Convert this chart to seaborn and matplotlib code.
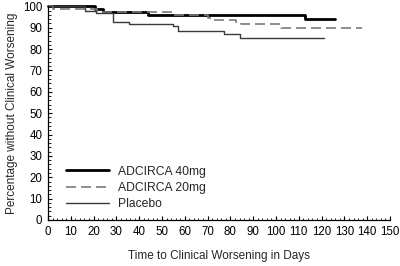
import matplotlib
matplotlib.use("Agg")
import matplotlib.pyplot as plt
import seaborn as sns
import pandas as pd
from matplotlib.ticker import MultipleLocator

sns.set_style("white")
plt.rcParams['font.family'] = ['Liberation Sans', 'DejaVu Sans']

# Kaplan-Meier step data (days, % without clinical worsening)
days_40 = [0, 20.7, 24.3, 43.7, 112.5, 125.7]
pct_40 = [100, 98.7, 97.4, 96.1, 94.3, 94.3]

days_20 = [0, 2.2, 21.6, 55, 70, 72.3, 82.5, 84.7, 102.3, 137.6]
pct_20 = [100, 99.0, 97.4, 96.0, 94.5, 93.7, 92.6, 91.8, 89.7, 89.7]

days_pl = [0, 16.3, 21, 28.5, 35.5, 55, 57, 77, 84, 121]
pct_pl = [100, 98.0, 96.8, 92.8, 91.8, 90.7, 88.3, 87.0, 85.0, 85.0]

labels = ["ADCIRCA 40mg", "ADCIRCA 20mg", "Placebo"]
x_ticks = list(range(0, 151, 10))
y_ticks = list(range(0, 101, 10))

fig = plt.figure(figsize=(4.0, 2.66), dpi=100)
ax = fig.add_axes([0.12, 0.173, 0.855, 0.803])

series = [
    (days_40, pct_40, labels[0], dict(color="black", lw=2.0, ls="-")),
    (days_20, pct_20, labels[1], dict(color="#7a7a7a", lw=1.2, ls=(0, (6, 3)))),
    (days_pl, pct_pl, labels[2], dict(color="#3a3a3a", lw=1.0, ls="-")),
]
for d, p, lab, st in series:
    df = pd.DataFrame({"day": d, "pct": p})
    sns.lineplot(data=df, x="day", y="pct", ax=ax, drawstyle="steps-post",
                 estimator=None, label=lab, color=st["color"], lw=st["lw"],
                 linestyle=st["ls"], clip_on=False)

ax.set_xlim(0, 150)
ax.set_ylim(0, 100)
ax.set_xticks(x_ticks)
ax.set_yticks(y_ticks)
ax.xaxis.set_minor_locator(MultipleLocator(2))
ax.yaxis.set_minor_locator(MultipleLocator(2))
ax.tick_params(axis="both", which="major", direction="in", length=3, width=0.8,
               labelsize=8.3, colors="black", pad=4)
ax.tick_params(axis="both", which="minor", direction="in", length=1.8, width=0.7)
ax.tick_params(axis="x", which="both", bottom=True)
ax.tick_params(axis="y", which="both", left=True)
for s in ["top", "right"]:
    ax.spines[s].set_visible(False)
for s in ["left", "bottom"]:
    ax.spines[s].set_color("black")
    ax.spines[s].set_linewidth(0.9)

ax.set_xlabel("Time to Clinical Worsening in Days", fontsize=8.5, labelpad=9)
ax.set_ylabel("Percentage without Clinical Worsening", fontsize=8.5, labelpad=4)

leg = ax.legend(loc="lower left", bbox_to_anchor=(0.02, -0.005), frameon=False,
                fontsize=8.7, handlelength=3.6, handletextpad=0.7, labelspacing=0.35)

fig.savefig("out.png", dpi=100)
